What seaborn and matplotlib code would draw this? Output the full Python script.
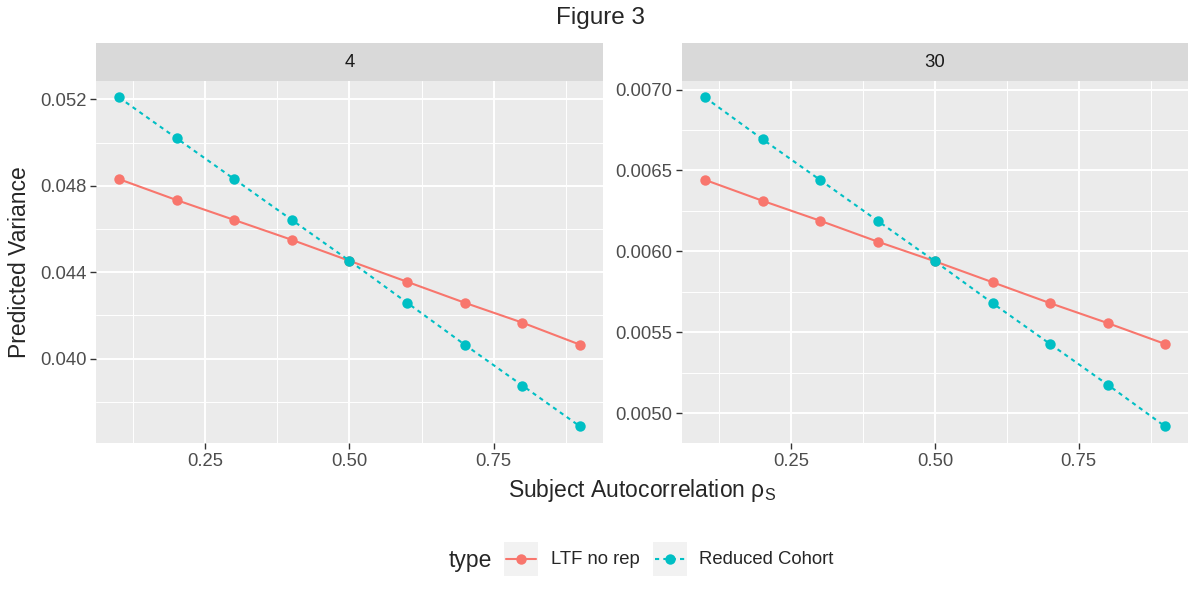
import numpy as np
import pandas as pd
import seaborn as sns
import matplotlib.pyplot as plt
from matplotlib.patches import Rectangle
from matplotlib.lines import Line2D
from matplotlib.ticker import FixedLocator

# values
rho = [0.1, 0.2, 0.3, 0.4, 0.5, 0.6, 0.7, 0.8, 0.9]
ltf_4 = [0.04831, 0.04734, 0.04642, 0.04550, 0.04453, 0.04356, 0.04259, 0.04167, 0.04065]
red_4 = [0.05209, 0.05020, 0.04831, 0.04642, 0.04453, 0.04259, 0.04065, 0.03876, 0.03687]
ltf_30 = [0.006442, 0.006313, 0.006190, 0.006061, 0.005939, 0.005810, 0.005681, 0.005558, 0.005429]
red_30 = [0.006951, 0.006693, 0.006442, 0.006190, 0.005939, 0.005681, 0.005429, 0.005178, 0.004920]
panels = ['4', '30']
types = ['LTF no rep', 'Reduced Cohort']
x_ticks = [0.25, 0.50, 0.75]
x_minor = [0.125, 0.375, 0.625, 0.875]
y_ticks = {'4': [0.040, 0.044, 0.048, 0.052],
           '30': [0.0050, 0.0055, 0.0060, 0.0065, 0.0070]}
y_minor = {'4': [0.038, 0.042, 0.046, 0.050],
           '30': [0.00475, 0.00525, 0.00575, 0.00625, 0.00675]}
y_fmt = {'4': '{:.3f}', '30': '{:.4f}'}

rows = []
for p, a, b in [('4', ltf_4, red_4), ('30', ltf_30, red_30)]:
    for r, v in zip(rho, a):
        rows.append((p, 'LTF no rep', r, v))
    for r, v in zip(rho, b):
        rows.append((p, 'Reduced Cohort', r, v))
df = pd.DataFrame(rows, columns=['panel', 'type', 'rho', 'var'])

sns.set_style('white')
plt.rcParams['font.family'] = ['Liberation Sans', 'DejaVu Sans']
plt.rcParams['mathtext.fontset'] = 'custom'
plt.rcParams['mathtext.rm'] = 'Liberation Sans'

palette = {'LTF no rep': '#F8766D', 'Reduced Cohort': '#00BFC4'}
dashes = {'LTF no rep': '', 'Reduced Cohort': (2, 2)}
W, H = 1200, 600
tick_fs = 13.3
title_fs = 16.5

fig = plt.figure(figsize=(12, 6), dpi=100)
ax_pos = [[96 / W, 0.262, 507 / W, 0.603], [682 / W, 0.262, 506 / W, 0.603]]

for i, p in enumerate(panels):
    ax = fig.add_axes(ax_pos[i])
    ax.set_facecolor('#EBEBEB')
    sub = df[df['panel'] == p]
    sns.lineplot(ax=ax, data=sub, x='rho', y='var', hue='type', style='type',
                 palette=palette, dashes=dashes, markers={'LTF no rep': 'o', 'Reduced Cohort': 'o'},
                 markersize=7.5, markeredgewidth=0, linewidth=1.5, legend=False, zorder=3)
    lo, hi = sub['var'].min(), sub['var'].max()
    pad = (hi - lo) * 0.05
    ax.set_ylim(lo - pad, hi + pad)
    ax.set_xlim(0.06, 0.94)
    ax.xaxis.set_major_locator(FixedLocator(x_ticks))
    ax.xaxis.set_minor_locator(FixedLocator(x_minor))
    ax.yaxis.set_major_locator(FixedLocator(y_ticks[p]))
    ax.yaxis.set_minor_locator(FixedLocator(y_minor[p]))
    ax.set_xticklabels(['{:.2f}'.format(t) for t in x_ticks])
    ax.set_yticklabels([y_fmt[p].format(t) for t in y_ticks[p]])
    ax.grid(which='major', color='white', linewidth=1.4)
    ax.grid(which='minor', color='white', linewidth=0.7)
    ax.set_axisbelow(True)
    for s in ax.spines.values():
        s.set_visible(False)
    ax.tick_params(axis='both', which='major', length=4, width=1, color='#333333',
                   labelsize=tick_fs, labelcolor='#4D4D4D', pad=3, bottom=True, left=True)
    ax.tick_params(which='minor', length=0)
    ax.set_xlabel('')
    ax.set_ylabel('')
    # facet strip
    strip = Rectangle((0, 1.0), 1, 38 / 362, transform=ax.transAxes, facecolor='#D9D9D9',
                      edgecolor='none', clip_on=False)
    ax.add_patch(strip)
    ax.text(0.5, 1.0 + 19 / 362, p, transform=ax.transAxes, ha='center', va='center',
            fontsize=tick_fs, color='#1A1A1A')

fig.text(601 / W, 1 - 18 / H, 'Figure 3', ha='center', va='center', fontsize=17.5)
fig.text(642 / W, 1 - 490 / H, 'Subject Autocorrelation \u03c1$_\\mathrm{S}$', ha='center', va='center',
         fontsize=title_fs)
fig.text(20 / W, 1 - 262 / H, 'Predicted Variance', ha='center', va='center', rotation=90, fontsize=title_fs)

# legend drawn by hand, ggplot style (title on the left, grey key boxes)
fig.text(449 / W, 1 - 560 / H, 'type', ha='left', va='center', fontsize=title_fs)
key_x = [504, 653]
text_x = [551, 699]
for t, kx, tx in zip(types, key_x, text_x):
    fig.add_artist(Rectangle((kx / W, 1 - 576 / H), 34 / W, 34 / H, transform=fig.transFigure,
                             facecolor='#F2F2F2', edgecolor='none'))
    ls = '-' if t == types[0] else (0, (2, 2))
    fig.add_artist(Line2D([(kx + 2) / W, (kx + 32) / W], [1 - 559 / H] * 2, transform=fig.transFigure,
                          color=palette[t], linewidth=1.5, linestyle=ls))
    fig.add_artist(Line2D([(kx + 17) / W], [1 - 559 / H], transform=fig.transFigure,
                          color=palette[t], marker='o', markersize=7.5, markeredgewidth=0, linestyle=''))
    fig.text(tx / W, 1 - 560 / H, t, ha='left', va='center', fontsize=tick_fs)

fig.savefig('out.png', dpi=100)
